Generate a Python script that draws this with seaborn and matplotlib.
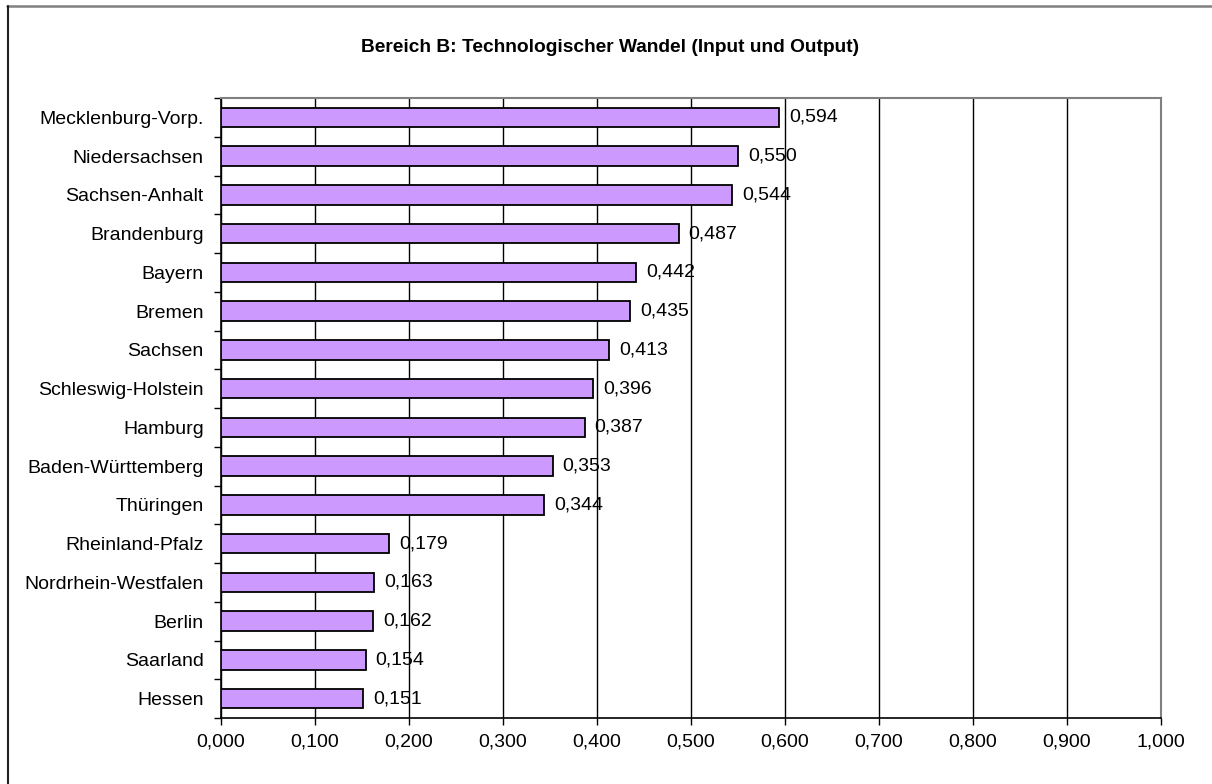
import matplotlib
matplotlib.use("Agg")
import matplotlib.pyplot as plt
import seaborn as sns
import pandas as pd
import numpy as np
from matplotlib.lines import Line2D

regions = ["Mecklenburg-Vorp.", "Niedersachsen", "Sachsen-Anhalt", "Brandenburg",
           "Bayern", "Bremen", "Sachsen", "Schleswig-Holstein", "Hamburg",
           "Baden-Württemberg", "Thüringen", "Rheinland-Pfalz",
           "Nordrhein-Westfalen", "Berlin", "Saarland", "Hessen"]
values = [0.594, 0.550, 0.544, 0.487, 0.442, 0.435, 0.413, 0.396, 0.387,
          0.353, 0.344, 0.179, 0.163, 0.162, 0.154, 0.151]
x_ticks = [0.0, 0.1, 0.2, 0.3, 0.4, 0.5, 0.6, 0.7, 0.8, 0.9, 1.0]
title = "Bereich B: Technologischer Wandel (Input und Output)"

df = pd.DataFrame({"region": regions, "value": values})

sns.set_theme(style="white")
plt.rcParams['font.family'] = ['Liberation Sans', 'DejaVu Sans']

fig = plt.figure(figsize=(12.12, 7.84), dpi=100)
ax = fig.add_axes([221/1212, 1-718/784, (1161-221)/1212, (718-98)/784])

sns.barplot(data=df, x="value", y="region", orient="h", color="#CC99FF",
            saturation=1, edgecolor="black", linewidth=1.3, width=0.5, ax=ax, zorder=3)

ax.set_xlim(0, 1.0)
ax.set_ylim(len(regions)-0.5, -0.5)
ax.set_xticks(x_ticks)
ax.set_xticklabels([f"{t:.3f}".replace(".", ",") for t in x_ticks], fontsize=14)
ax.set_xlabel("")
ax.set_ylabel("")
ax.tick_params(axis="x", which="major", length=5, width=1, color="black", direction="out",
               bottom=True, pad=6, labelcolor="black")
ax.set_yticks(range(len(regions)))
ax.set_yticklabels(regions, fontsize=14, color="black")
ax.set_yticks(np.arange(-0.5, len(regions), 1), minor=True)
ax.tick_params(axis="y", which="major", length=0, pad=12.5)
ax.tick_params(axis="y", which="minor", length=5, width=1, color="black", direction="out", left=True)

ax.grid(axis="x", color="black", linewidth=1, zorder=0)
ax.grid(axis="y", visible=False)
ax.set_axisbelow(True)

for s in ["left", "bottom"]:
    ax.spines[s].set_color("black")
    ax.spines[s].set_linewidth(1.2)
for s in ["top", "right"]:
    ax.spines[s].set_color("#808080")
    ax.spines[s].set_linewidth(1.5)

for i, v in enumerate(values):
    ax.text(v + 0.0105, i, f"{v:.3f}".replace(".", ","), va="center", ha="left",
            fontsize=14, color="black", zorder=4)

fig.text(610/1212, 1-47/784, title, ha="center", va="center", fontsize=13.8,
         fontweight="bold", color="black")

# outer chart frame
fig.add_artist(Line2D([7/1212, 1.0], [1-5.5/784, 1-5.5/784], transform=fig.transFigure,
                      color="#808080", linewidth=1.8))
fig.add_artist(Line2D([7.5/1212, 7.5/1212], [0, 1-5.5/784], transform=fig.transFigure,
                      color="#202020", linewidth=1.5))

fig.savefig("out.png", dpi=100)
